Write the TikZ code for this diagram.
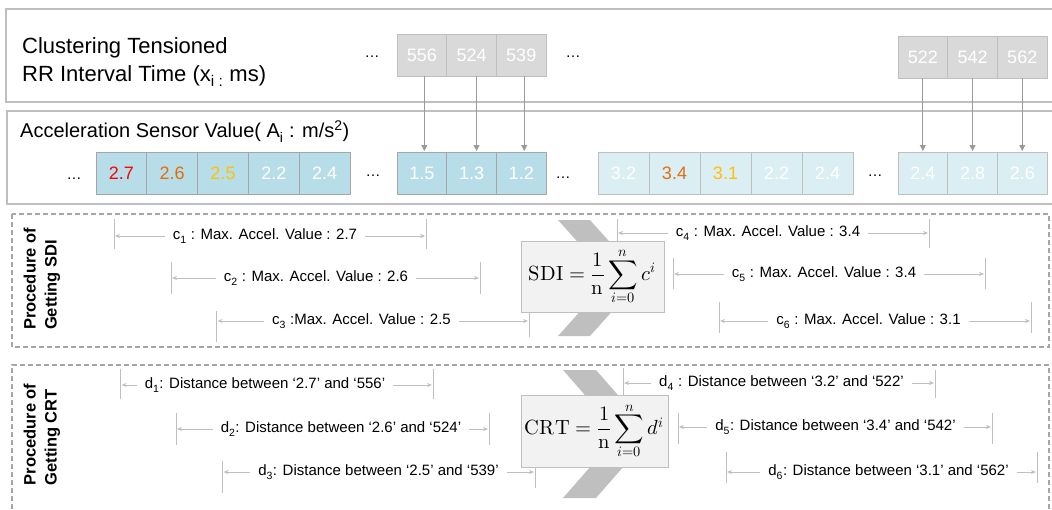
\documentclass[tikz,border=0pt]{standalone}
\usepackage{fontspec}
\usepackage{unicode-math}
\setmainfont{Liberation Sans}
\usetikzlibrary{arrows.meta}
\definecolor{bord}{HTML}{BFBFBF}
\definecolor{dashc}{HTML}{A6A6A6}
\definecolor{grayfill}{HTML}{D9D9D9}
\definecolor{blued}{HTML}{B7DEE8}
\definecolor{bluel}{HTML}{DBEEF4}
\definecolor{formfill}{HTML}{F2F2F2}
\definecolor{chevc}{HTML}{BFBFBF}
\definecolor{dimc}{HTML}{BFBFBF}
\definecolor{arrc}{HTML}{9A9A9A}
\definecolor{cellb}{HTML}{A6A6A6}
\definecolor{orangec}{HTML}{E46C0A}
\definecolor{goldc}{HTML}{FFC000}
\begin{document}
\begin{tikzpicture}[x=1pt,y=-1pt,
  panel/.style={draw=bord, line width=1.2},
  sect/.style={draw=dashc, line width=1.6, dash pattern=on 5pt off 3pt},
  cell/.style={draw=bord, line width=0.9, minimum width=#1, minimum height=42,
    inner sep=0, outer sep=0, anchor=north west, text=white,
    font=\fontsize{18}{20}\selectfont},
  cell/.default=50,
  gcell/.style={cell=#1, fill=grayfill},
  dcell/.style={cell=#1, fill=blued, draw=cellb},
  lcell/.style={cell=#1, fill=bluel},
  dots/.style={font=\fontsize{15}{18}\selectfont, anchor=base, inner sep=0},
  feed/.style={draw=arrc, line width=1, shorten >=1pt, -{Triangle[length=6pt,width=6pt]}},
  tick/.style={draw=dimc, line width=1},
  dim/.style={draw=dimc, line width=1, shorten >=1pt, -{Stealth[length=5pt,width=4pt]}},
  dimtext/.style={font=\fontsize{15}{18}\selectfont, inner xsep=8, inner ysep=0},
  formula/.style={draw=bord, fill=formfill, line width=1, inner sep=0,
    font=\fontsize{20.5}{24}\selectfont},
  chev/.style={fill=chevc, draw=none},
  sectlabel/.style={rotate=90, align=left, font=\bfseries\fontsize{16.5}{21}\selectfont, inner sep=0}
]
\useasboundingbox (0,0) rectangle (1052,509);

% panels
\draw[panel] (1052,9) -- (6,9) -- (6,102) -- (1052,102);
\draw[panel] (1052,111) -- (7,111) -- (7,204) -- (1052,204);
\draw[sect] (12,214) rectangle (1049,347);
\draw[sect] (12,509) -- (12,365) -- (1049,365) -- (1049,509);

% labels
\node[anchor=west, align=left, inner sep=0, font=\fontsize{22}{28}\selectfont] (title) at (22,62)
  {Clustering Tensioned\\RR Interval Time (x\textsubscript{i :} ms)};
\node[anchor=base west, inner sep=0, font=\fontsize{20}{24}\selectfont] (acc) at (20,137.7)
  {Acceleration Sensor Value( A\textsubscript{i} : m/s\textsuperscript{2})};
\node[sectlabel] (sdilab) at (42,279) {Procedure of\\Getting SDI};
\node[sectlabel] (crtlab) at (42,434.5) {Procedure of\\Getting CRT};

% RR interval cells
\node[gcell=49.7] (g1) at (397,34) {556};
\node[gcell=49.7] (g2) at (g1.north east) {524};
\node[gcell=49.7] (g3) at (g2.north east) {539};
\node[gcell=49.7] (h1) at (898,36) {522};
\node[gcell=49.7] (h2) at (h1.north east) {542};
\node[gcell=49.7] (h3) at (h2.north east) {562};
\node[dots] (rd1) at (372,57) {\ldots};
\node[dots] (rd2) at (573,57) {\ldots};

% acceleration cells
\node[dcell=50.8, text=red] (a1) at (96,152) {2.7};
\node[dcell=50.8, text=orangec] (a2) at (a1.north east) {2.6};
\node[dcell=50.8, text=goldc] (a3) at (a2.north east) {2.5};
\node[dcell=50.8] (a4) at (a3.north east) {2.2};
\node[dcell=50.8] (a5) at (a4.north east) {2.4};
\node[dcell=49.7] (m1) at (397,152) {1.5};
\node[dcell=49.7] (m2) at (m1.north east) {1.3};
\node[dcell=49.7] (m3) at (m2.north east) {1.2};
\node[lcell=51] (b1) at (598,152) {3.2};
\node[lcell=51, text=orangec] (b2) at (b1.north east) {3.4};
\node[lcell=51, text=goldc] (b3) at (b2.north east) {3.1};
\node[lcell=51] (b4) at (b3.north east) {2.2};
\node[lcell=51] (b5) at (b4.north east) {2.4};
\node[lcell=49.7] (n1) at (898,152) {2.4};
\node[lcell=49.7] (n2) at (n1.north east) {2.8};
\node[lcell=49.7] (n3) at (n2.north east) {2.6};
\node[dots] (ad1) at (74,179) {\ldots};
\node[dots] (ad2) at (373,176) {\ldots};
\node[dots] (ad3) at (563,178) {\ldots};
\node[dots] (ad4) at (875,176) {\ldots};

% feed arrows
\draw[feed] ([xshift=2.5pt]g1.south) -- ([xshift=2.5pt]m1.north);
\draw[feed] ([xshift=5pt]g2.south) -- ([xshift=5pt]m2.north);
\draw[feed] ([xshift=3pt]g3.south) -- ([xshift=3pt]m3.north);
\draw[feed] (h1.south) -- (n1.north);
\draw[feed] (h2.south) -- (n2.north);
\draw[feed] (h3.south) -- (n3.north);

% chevrons
\fill[chev] (558,220) -- (590,220) -- (642,278) -- (590,336) -- (558,336) -- (610,278) -- cycle;
\fill[chev] (563,370) -- (596,370) -- (652,434) -- (596,498) -- (563,498) -- (619,434) -- cycle;

% SDI dimensions
\node[dimtext] (c1) at (265,236) {c\textsubscript{1} : Max. Accel. Value : 2.7};
\coordinate (c1l) at (114,236); \coordinate (c1r) at (426,236);
\draw[tick] (114,219) -- (114,249); \draw[tick] (426,219) -- (426,249);
\draw[dim] (c1.west) -- (c1l); \draw[dim] (c1.east) -- (c1r);

\node[dimtext] (c2) at (316,278) {c\textsubscript{2} : Max. Accel. Value : 2.6};
\coordinate (c2l) at (171,278); \coordinate (c2r) at (480,278);
\draw[tick] (171,262) -- (171,294); \draw[tick] (480,262) -- (480,294);
\draw[dim] (c2.west) -- (c2l); \draw[dim] (c2.east) -- (c2r);

\node[dimtext] (c3) at (361.5,321) {c\textsubscript{3} :Max. Accel. Value : 2.5};
\coordinate (c3l) at (216.5,321); \coordinate (c3r) at (529,321);
\draw[tick] (216.5,311) -- (216.5,342); \draw[tick] (529,313) -- (529,337);
\draw[dim] (c3.west) -- (c3l); \draw[dim] (c3.east) -- (c3r);

\node[dimtext] (c4) at (768,233) {c\textsubscript{4} : Max. Accel. Value : 3.4};
\coordinate (c4l) at (617,233); \coordinate (c4r) at (929,233);
\draw[tick] (617,219) -- (617,248); \draw[tick] (929,219) -- (929,248);
\draw[dim] (c4.west) -- (c4l); \draw[dim] (c4.east) -- (c4r);

\node[dimtext] (c5) at (824,274) {c\textsubscript{5} : Max. Accel. Value : 3.4};
\coordinate (c5l) at (673,274); \coordinate (c5r) at (985,274);
\draw[tick] (673,258) -- (673,289); \draw[tick] (985,258) -- (985,289);
\draw[dim] (c5.west) -- (c5l); \draw[dim] (c5.east) -- (c5r);

\node[dimtext] (c6) at (868.5,321) {c\textsubscript{6} : Max. Accel. Value : 3.1};
\coordinate (c6l) at (719,321); \coordinate (c6r) at (1031,321);
\draw[tick] (719,302) -- (719,333); \draw[tick] (1031,302) -- (1031,333);
\draw[dim] (c6.west) -- (c6l); \draw[dim] (c6.east) -- (c6r);

% CRT dimensions
\node[dimtext] (d1) at (265,385) {d\textsubscript{1}: Distance between ‘2.7’ and ‘556’};
\coordinate (d1l) at (120.6,385); \coordinate (d1r) at (433,385);
\draw[tick] (120.6,369) -- (120.6,399); \draw[tick] (433,369) -- (433,399);
\draw[dim] (d1.west) -- (d1l); \draw[dim] (d1.east) -- (d1r);

\node[dimtext] (d2) at (341,429) {d\textsubscript{2}: Distance between ‘2.6’ and ‘524’};
\coordinate (d2l) at (176,429); \coordinate (d2r) at (489,429);
\draw[tick] (176,413) -- (176,445); \draw[tick] (489,413) -- (489,445);
\draw[dim] (d2.west) -- (d2l); \draw[dim] (d2.east) -- (d2r);

\node[dimtext] (d3) at (378.5,472) {d\textsubscript{3}: Distance between ‘2.5’ and ‘539’};
\coordinate (d3l) at (222.6,472); \coordinate (d3r) at (535,472);
\draw[tick] (222.6,461) -- (222.6,493); \draw[tick] (535,466) -- (535,488);
\draw[dim] (d3.west) -- (d3l); \draw[dim] (d3.east) -- (d3r);

\node[dimtext] (d4) at (781.5,383) {d\textsubscript{4} : Distance between ‘3.2’ and ‘522’};
\coordinate (d4l) at (623,383); \coordinate (d4r) at (935,383);
\draw[tick] (623,368) -- (623,396); \draw[tick] (935,370) -- (935,398);
\draw[dim] (d4.west) -- (d4l); \draw[dim] (d4.east) -- (d4r);

\node[dimtext] (d5) at (835.5,427) {d\textsubscript{5}: Distance between ‘3.4’ and ‘542’};
\coordinate (d5l) at (678,427); \coordinate (d5r) at (992,427);
\draw[tick] (678,413) -- (678,444); \draw[tick] (992,413) -- (992,444);
\draw[dim] (d5.west) -- (d5l); \draw[dim] (d5.east) -- (d5r);

\node[dimtext] (d6) at (888.5,472) {d\textsubscript{6}: Distance between ‘3.1’ and ‘562’};
\coordinate (d6l) at (726,472); \coordinate (d6r) at (1037,472);
\draw[tick] (726,452) -- (726,483); \draw[tick] (1037,452) -- (1037,483);
\draw[dim] (d6.west) -- (d6l); \draw[dim] (d6.east) -- (d6r);

% formulas
\node[formula, minimum width=143, minimum height=71] (sdi) at (592.5,276.5)
  {$\displaystyle \symup{SDI} = \frac{1}{\symup{n}}\sum_{i=0}^{n} c^{i}$};
\node[formula, minimum width=147, minimum height=72] (crt) at (594.5,431)
  {$\displaystyle \symup{CRT} = \frac{1}{\symup{n}}\sum_{i=0}^{n} d^{i}$};
\end{tikzpicture}
\end{document}
